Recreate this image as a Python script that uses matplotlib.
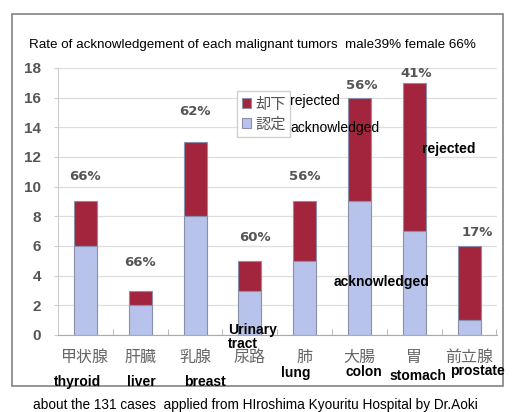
import matplotlib
matplotlib.use("Agg")
from matplotlib import pyplot as plt
from matplotlib.patches import Rectangle
import numpy as np

# data
organs_jp = ['甲状腺', '肝臓', '乳腺', '尿路', '肺', '大腸', '胃', '前立腺']
organs_en = ['thyroid', 'liver', 'breast', 'lung', 'colon', 'stomach', 'prostate']
acknowledged = [6, 2, 8, 3, 5, 9, 7, 1]
rejected = [3, 1, 5, 2, 4, 7, 10, 5]
rates = ['66%', '66%', '62%', '60%', '56%', '56%', '41%', '17%']
yticks = [0, 2, 4, 6, 8, 10, 12, 14, 16, 18]

W, H = 523, 412
RED = '#a3243d'
BLUE = '#b8c3ec'
EDGE = '#8a90aa'


def px(x, y):
    # pixel position (from top-left) -> figure fraction
    return x / W, 1 - y / H


fig = plt.figure(figsize=(W / 100, H / 100), dpi=100)
fig.patch.set_facecolor('white')

# outer frame of the slide chart
fig.patches.append(Rectangle(px(12, 386), 491 / W, 372 / H, transform=fig.transFigure,
                             fill=False, edgecolor='#8c8c8c', lw=1.3, zorder=0))

ax = fig.add_axes([58 / W, 1 - 335 / H, 439 / W, 267 / H])
x = np.arange(len(organs_jp))
ack = np.array(acknowledged)
rej = np.array(rejected)

b_rej = ax.bar(x, rej, 0.42, bottom=ack, color=RED, edgecolor=EDGE, lw=0.8, zorder=3)
b_ack = ax.bar(x, ack, 0.42, color=BLUE, edgecolor=EDGE, lw=0.8, zorder=3)

# percentage labels above bars
pads = [1.7, 1.9, 2.1, 1.6, 1.7, 0.8, 0.6, 0.9]
dx = [0, 0, 0, 0.1, 0, 0.05, 0.03, 0.15]
for i in range(len(x)):
    ax.text(x[i] + dx[i], ack[i] + rej[i] + pads[i], rates[i], ha='center', va='center',
            fontsize=9.5, fontweight='bold', color='#555555', family='DejaVu Sans')

ax.set_xlim(-0.47, 7.51)
ax.set_ylim(0, 18)
ax.set_yticks(yticks)
ax.set_yticklabels([str(v) for v in yticks], fontsize=11, fontweight='bold',
                   color='#555555', family='Liberation Sans')
ax.tick_params(axis='y', length=3, color='#cccccc', pad=9)
ax.grid(axis='y', color='#dedede', lw=0.9, zorder=0)

ax.set_xticks(x)
ax.set_xticklabels(organs_jp, fontsize=11.5, color='#666666', family='Noto Sans CJK JP')
ax.set_xticks(np.arange(-0.5, 8, 1), minor=True)
ax.tick_params(axis='x', which='major', length=0, pad=10)
ax.tick_params(axis='x', which='minor', length=4, color='#aaaaaa', direction='in')

for s in ['top', 'right']:
    ax.spines[s].set_visible(False)
ax.spines['left'].set_color('#cccccc')
ax.spines['bottom'].set_color('#aaaaaa')

leg = ax.legend([b_rej, b_ack], ['却下', '認定'], loc='upper left',
                bbox_to_anchor=((237 - 58) / 439, (335 - 91) / 267),
                prop={'family': 'Noto Sans CJK JP', 'size': 11},
                handlelength=0.6, handleheight=0.6, handletextpad=0.3,
                labelspacing=0.2, borderpad=0.3, borderaxespad=0,
                fancybox=False, framealpha=1, edgecolor='#d0d0d0')
for t in leg.get_texts():
    t.set_color('#555555')

# English overlays
fig.text(*px(290, 101), 'rejected', fontsize=10, va='center', family='Liberation Sans')
fig.text(*px(290, 128), 'acknowledged', fontsize=10, va='center', family='Liberation Sans')

bold = dict(fontsize=10, fontweight='bold', family='Liberation Sans', va='center', ha='center')
fig.text(*px(449, 149), 'rejected', **bold)
fig.text(*px(382, 282), 'acknowledged', **bold)
fig.text(*px(228, 337), 'Urinary\ntract', fontsize=10, fontweight='bold',
         family='Liberation Sans', va='center', ha='left', linespacing=1.05)

en_pos = [(78, 382), (141, 382), (205, 382), (296, 373), (364, 372), (418, 376), (477, 371)]
for name, (ex, ey) in zip(organs_en, en_pos):
    fig.text(*px(ex, ey), name, **bold)

fig.text(*px(29, 45), 'Rate of acknowledgement of each malignant tumors  male39% female 66%',
         fontsize=9.6, va='center', ha='left', family='Liberation Sans')
fig.text(*px(255, 405), 'about the 131 cases  applied from HIroshima Kyouritu Hospital by Dr.Aoki',
         fontsize=9.8, va='center', ha='center', family='Liberation Sans')

plt.savefig('out.png', dpi=100)
